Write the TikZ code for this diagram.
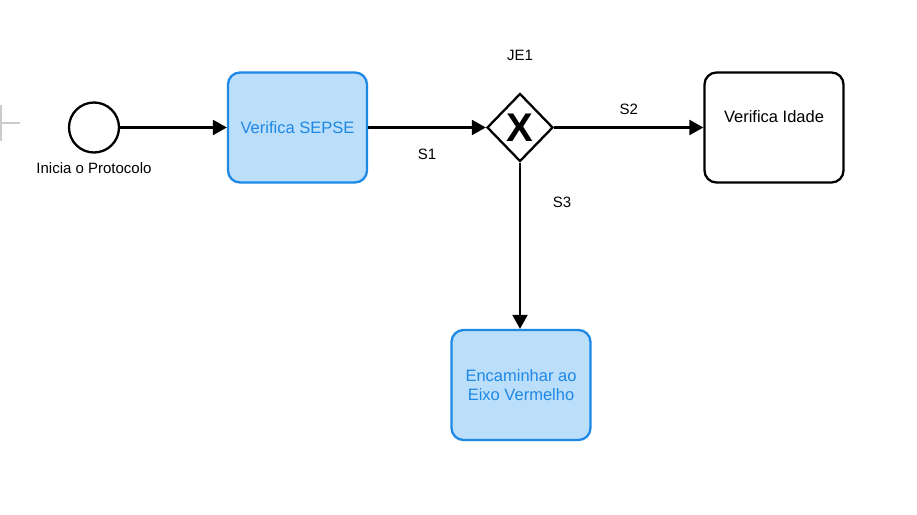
\documentclass[tikz,border=0pt]{standalone}
\usepackage{fontspec}
\setmainfont{Liberation Sans}
\usetikzlibrary{shapes.geometric,arrows.meta}
\definecolor{taskblue}{HTML}{BBDEFB}
\definecolor{taskline}{HTML}{1E88E5}
\tikzset{
  flow/.style={line width=2.3pt, -{Triangle[length=14pt,width=15pt]}},
  task/.style={rectangle, rounded corners=12pt, line width=2.3pt, minimum width=139pt, minimum height=110pt, font=\fontsize{16.5}{19}\selectfont},
  bluetask/.style={task, draw=taskline, fill=taskblue, text=taskline, align=center},
  flowlabel/.style={font=\fontsize{15}{18}\selectfont}
}
\begin{document}
\begin{tikzpicture}[x=1pt, y=1pt]
        \useasboundingbox (0,0) rectangle (917,-514);
        % Cursor mark at the left edge
        \draw[line width=2pt, black!20] (-18,-123) -- (20,-123);
        \draw[line width=2pt, black!20] (1,-105) -- (1,-141);
        
        % Start event
        \node[circle, draw, line width=2.3pt, minimum size=50pt, inner sep=0pt] (start) at (94,-127.5) {};
        \node[flowlabel, below of=start, node distance=40.5pt] (startlabel) {Inicia o Protocolo};
        
        % Verifica SEPSE
        \node[bluetask, right of=start, node distance=203.5pt] (sepse) {Verifica SEPSE};
        
        % Gateway
        \node[diamond, draw, line width=2.3pt, fill=white, minimum width=66pt, minimum height=68pt, inner sep=0pt, right of=sepse, node distance=222.5pt, font=\fontsize{40}{40}\selectfont\bfseries] (gw) {X};
        \node[flowlabel, above of=gw, node distance=72pt] (je1) {JE1};
        
        % Verifica Idade
        \node[task, draw, fill=white, right of=gw, node distance=254pt, label={[flowlabel, font=\fontsize{16.5}{19}\selectfont, yshift=11pt]center:Verifica Idade}] (idade) {};
        
        % Encaminhar
        \node[bluetask, below of=gw, node distance=257.5pt, xshift=1pt] (enc) {Encaminhar ao\\Eixo Vermelho};
        
        % Connections
        \draw[flow] (start) -- (sepse);
        \draw[flow] (sepse) -- node[flowlabel, yshift=-27pt] (s1) {S1} (gw);
        \draw[flow] (gw) -- node[flowlabel, yshift=18pt] (s2) {S2} (idade);
        \draw[flow] (gw) -- node[flowlabel, pos=0.24, xshift=42pt] (s3) {S3} (gw |- enc.north);
    \end{tikzpicture}
\end{document}
